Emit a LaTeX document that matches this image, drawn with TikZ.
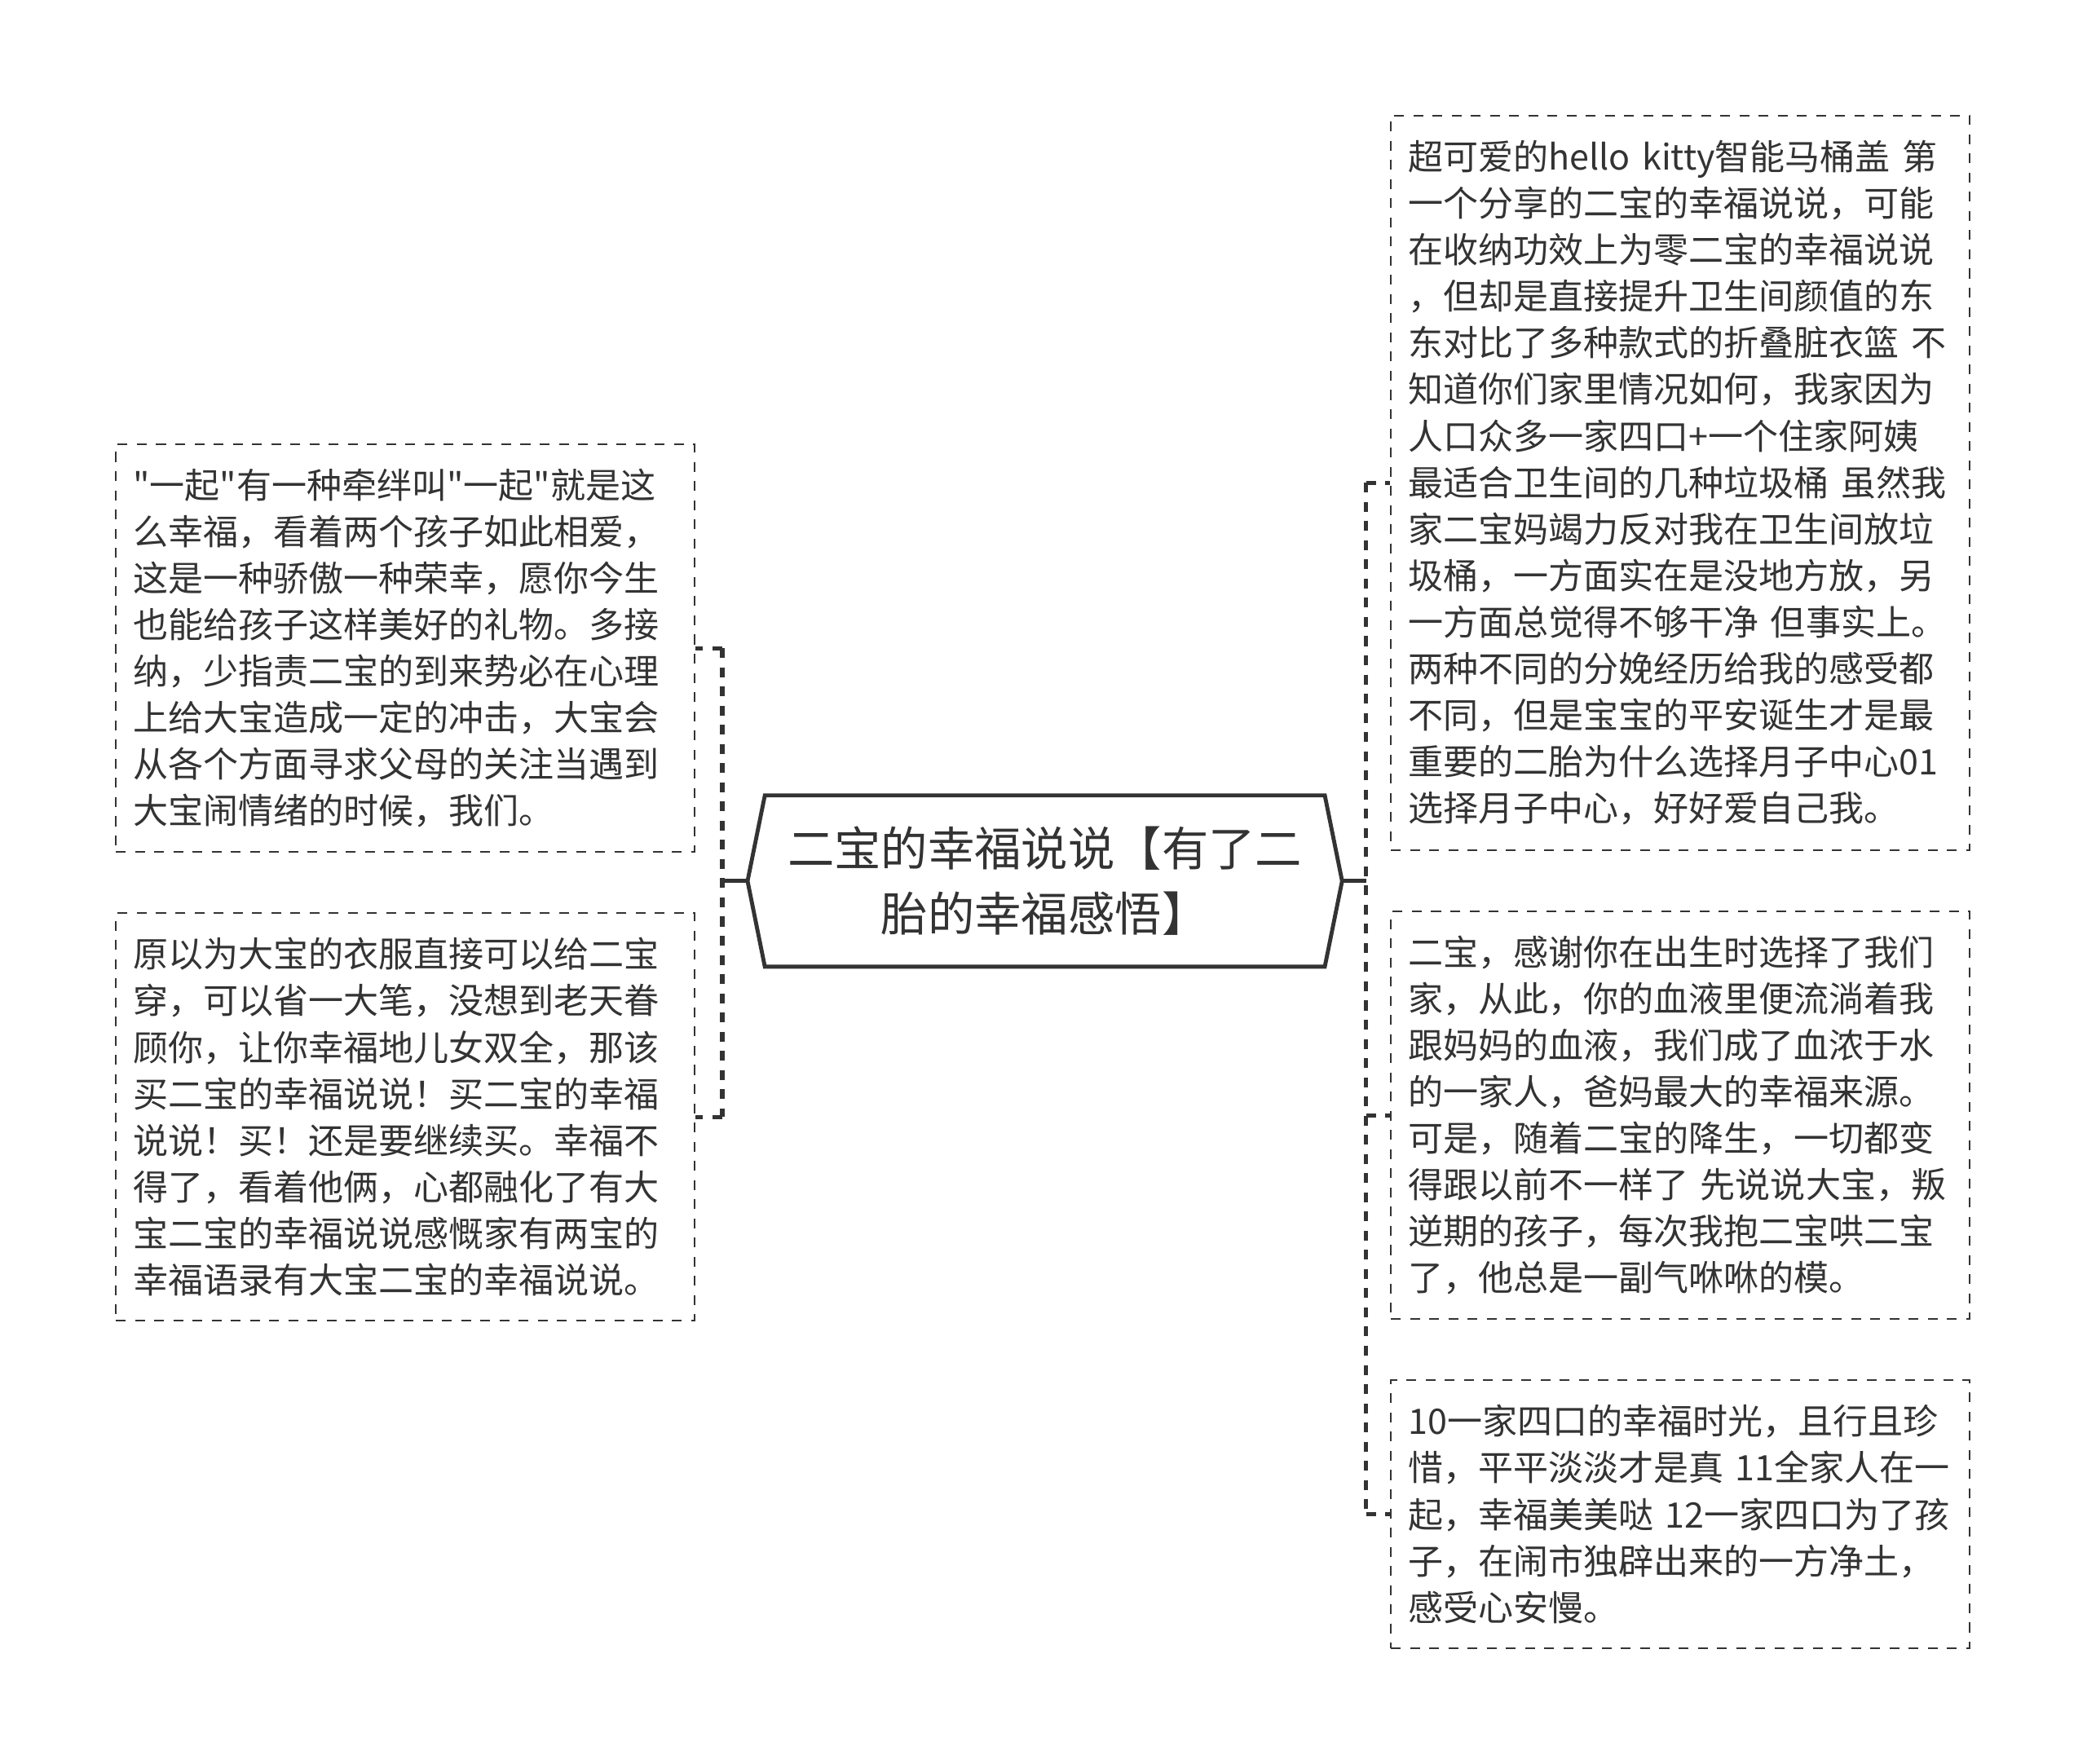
\documentclass[tikz,border=0pt]{standalone}
\usepackage{fontspec}
\newfontfamily\cjkfont{Noto Sans CJK SC}
\usetikzlibrary{positioning,calc}
\definecolor{tinta}{HTML}{333333}
\tikzset{
    raiz/.style={
        rectangle,                % caja base, el contorno hexagonal se traza aparte
        minimum width=8.4cm,      % ancho de la parte plana
        minimum height=2.56cm,
        inner sep=0pt,
        align=center,             % título centrado en dos líneas
        text=tinta,
        font=\cjkfont\fontsize{20}{28}\selectfont
    },
    hoja/.style={
        rectangle,
        draw=tinta,               % borde gris oscuro
        line width=0.7pt,
        dash pattern=on 4.2pt off 4pt, % borde discontinuo
        minimum width=8.7cm,
        minimum height=#1,        % cada hoja tiene su propia altura
        text width=8.18cm,
        inner sep=0.26cm,
        align=left,               % párrafo alineado a la izquierda
        text=tinta,
        font=\cjkfont\fontsize{15}{19.9}\selectfont
    },
    tronco/.style={
        draw=tinta,
        line width=1.8pt,         % tronco y ramas más gruesos
        dash pattern=on 4.2pt off 4pt
    }
}
\begin{document}
\begin{tikzpicture}
			\useasboundingbox (-15.7,-13.26) rectangle (15.66,13.24);

			\node[raiz] (raiz) at (0,0) {二宝的幸福说说【有了二\\胎的幸福感悟】};
			\coordinate (raizO) at ($(raiz.west)+(-0.26,0)$);
			\coordinate (raizE) at ($(raiz.east)+(0.26,0)$);
			\draw[tinta, line width=1.7pt] (raiz.north west) -- (raiz.north east) -- (raizE)
				-- (raiz.south east) -- (raiz.south west) -- (raizO) -- cycle;

			\node[hoja=6.12cm, left=1.04cm of raiz.west, yshift=3.5cm] (izq1) {"一起"有一种牵绊叫"一起"就是这\\么幸福，看着两个孩子如此相爱，\\这是一种骄傲一种荣幸，愿你今生\\也能给孩子这样美好的礼物。多接\\纳，少指责二宝的到来势必在心理\\上给大宝造成一定的冲击，大宝会\\从各个方面寻求父母的关注当遇到\\大宝闹情绪的时候，我们。};
			\node[hoja=6.12cm, below=0.9cm of izq1] (izq2) {原以为大宝的衣服直接可以给二宝\\穿，可以省一大笔，没想到老天眷\\顾你，让你幸福地儿女双全，那该\\买二宝的幸福说说！买二宝的幸福\\说说！买！还是要继续买。幸福不\\得了，看着他俩，心都融化了有大\\宝二宝的幸福说说感慨家有两宝的\\幸福语录有大宝二宝的幸福说说。};

			\node[hoja=6.12cm, right=0.98cm of raiz.east, yshift=-3.52cm] (der2) {二宝，感谢你在出生时选择了我们\\家，从此，你的血液里便流淌着我\\跟妈妈的血液，我们成了血浓于水\\的一家人，爸妈最大的幸福来源。\\可是，随着二宝的降生，一切都变\\得跟以前不一样了~先说说大宝，叛\\逆期的孩子，每次我抱二宝哄二宝\\了，他总是一副气咻咻的模。};
			\node[hoja=11.04cm, above=0.9cm of der2] (der1) {超可爱的hello~kitty智能马桶盖~第\\一个分享的二宝的幸福说说，可能\\在收纳功效上为零二宝的幸福说说\\，但却是直接提升卫生间颜值的东\\东对比了多种款式的折叠脏衣篮~不\\知道你们家里情况如何，我家因为\\人口众多一家四口+一个住家阿姨\\最适合卫生间的几种垃圾桶~虽然我\\家二宝妈竭力反对我在卫生间放垃\\圾桶，一方面实在是没地方放，另\\一方面总觉得不够干净~但事实上。\\两种不同的分娩经历给我的感受都\\不同，但是宝宝的平安诞生才是最\\重要的二胎为什么选择月子中心01\\选择月子中心，好好爱自己我。};
			\node[hoja=4.02cm, below=0.9cm of der2] (der3) {10一家四口的幸福时光，且行且珍\\惜，平平淡淡才是真~11全家人在一\\起，幸福美美哒~12一家四口为了孩\\子，在闹市独辟出来的一方净土，\\感受心安慢。};

			\coordinate (troncoI) at ($(raizO)+(-0.38,0)$);
			\coordinate (troncoD) at ($(raizE)+(0.36,0)$);

			\draw[tinta, line width=1.8pt] (raizO) -- (troncoI);
			\draw[tronco] (troncoI |- izq1.east) -- (troncoI |- izq2.east);
			\draw[tronco] (troncoI |- izq1.east) -- (izq1.east);
			\draw[tronco] (troncoI |- izq2.east) -- (izq2.east);

			\draw[tinta, line width=1.8pt] (raizE) -- (troncoD);
			\draw[tronco] (troncoD |- der1.west) -- (troncoD |- der3.west);
			\draw[tronco] (troncoD |- der1.west) -- (der1.west);
			\draw[tronco] (troncoD |- der2.west) -- (der2.west);
			\draw[tronco] (troncoD |- der3.west) -- (der3.west);
		\end{tikzpicture}
\end{document}
